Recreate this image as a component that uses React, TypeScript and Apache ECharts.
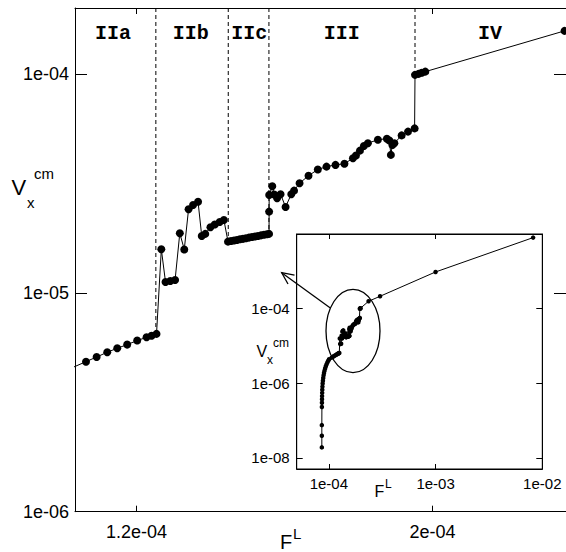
import React, { useEffect, useRef } from "react";
import * as echarts from "echarts";

// ---- main plot data (F^L, V_x^cm), split by regime ----
const segIIaF = [1.005e-4, 1.0633e-4, 1.0921e-4, 1.1207e-4, 1.1477e-4, 1.1746e-4, 1.2016e-4, 1.227e-4, 1.2405e-4, 1.2539e-4];
const segIIaV = [4.39e-6, 4.846e-6, 5.09e-6, 5.35e-6, 5.58e-6, 5.8e-6, 6.05e-6, 6.26e-6, 6.37e-6, 6.49e-6];

const segIIbF = [1.2669e-4, 1.2782e-4, 1.2912e-4, 1.3041e-4, 1.3168e-4, 1.3289e-4, 1.3405e-4, 1.3527e-4, 1.3661e-4, 1.3761e-4, 1.3856e-4, 1.3996e-4, 1.4112e-4, 1.4247e-4, 1.436e-4];
const segIIbV = [1.58e-5, 1.121e-5, 1.133e-5, 1.145e-5, 1.871e-5, 1.578e-5, 2.408e-5, 2.519e-5, 2.608e-5, 1.819e-5, 1.858e-5, 1.993e-5, 2.052e-5, 2.107e-5, 2.152e-5];

const segIIcF = [1.4471e-4, 1.4552e-4, 1.4633e-4, 1.4713e-4, 1.4794e-4, 1.4875e-4, 1.4956e-4, 1.5037e-4, 1.5118e-4, 1.5199e-4, 1.528e-4, 1.5361e-4, 1.5442e-4, 1.5523e-4, 1.558e-4];
const segIIcV = [1.713e-5, 1.724e-5, 1.733e-5, 1.744e-5, 1.755e-5, 1.764e-5, 1.776e-5, 1.787e-5, 1.798e-5, 1.807e-5, 1.819e-5, 1.83e-5, 1.84e-5, 1.851e-5, 1.858e-5];

const segIIIF = [1.5582e-4, 1.5584e-4, 1.5668e-4, 1.5719e-4, 1.5798e-4, 1.5892e-4, 1.6027e-4, 1.6181e-4, 1.6256e-4, 1.6405e-4, 1.6647e-4, 1.6898e-4, 1.7133e-4, 1.7376e-4, 1.7618e-4, 1.7848e-4, 1.7928e-4, 1.8036e-4, 1.8144e-4, 1.8252e-4, 1.8522e-4, 1.8765e-4, 1.8832e-4, 1.8873e-4, 1.8913e-4, 1.8967e-4, 1.9164e-4, 1.9336e-4, 1.9514e-4];
const segIIIV = [2.349e-5, 2.8e-5, 3.068e-5, 2.814e-5, 2.704e-5, 2.82e-5, 2.467e-5, 2.82e-5, 2.929e-5, 3.167e-5, 3.426e-5, 3.658e-5, 3.771e-5, 3.839e-5, 3.888e-5, 4.119e-5, 4.242e-5, 4.461e-5, 4.688e-5, 4.823e-5, 5.004e-5, 5.057e-5, 4.967e-5, 4.265e-5, 4.737e-5, 4.823e-5, 5.236e-5, 5.45e-5, 5.636e-5];

const segIVF = [1.9525e-4, 1.9622e-4, 1.9709e-4, 1.9803e-4, 2.3566e-4];
const segIVV = [9.9e-5, 1.0e-4, 1.013e-4, 1.024e-4, 1.572e-4];

// ---- inset extra data ----
const lowF = [8.6e-5, 8.6e-5, 8.6e-5, 8.61e-5, 8.62e-5, 8.63e-5, 8.64e-5, 8.66e-5, 8.68e-5, 8.71e-5, 8.75e-5, 8.8e-5, 8.86e-5, 8.93e-5, 9.01e-5, 9.11e-5, 9.23e-5, 9.37e-5, 9.53e-5, 9.71e-5, 9.88e-5];
const lowV = [1.9e-8, 3.9e-8, 7.5e-8, 2.3e-7, 3.0e-7, 3.7e-7, 4.5e-7, 5.5e-7, 6.7e-7, 8.1e-7, 9.8e-7, 1.17e-6, 1.38e-6, 1.62e-6, 1.88e-6, 2.17e-6, 2.49e-6, 2.84e-6, 3.22e-6, 3.63e-6, 4.02e-6];
const highF = [3.02e-4, 1.0e-3, 8.2e-3];
const highV = [2.14e-4, 9.6e-4, 8.0e-3];

// ---- regime boundaries ----
const boundaryF = [1.2521e-4, 1.4478e-4, 1.5577e-4, 1.9525e-4];
const boundaryBottomV = [6.49e-6, 1.713e-5, 1.858e-5, 9.9e-5];
const regimeNames = ["IIa", "IIb", "IIc", "III", "IV"];

// ---- axes ----
const mainXTicks = [1.2e-4, 2e-4];
const mainYTicks = [1e-6, 1e-5, 1e-4];
const insetXTicks = [1e-4, 1e-3, 1e-2];
const insetYTicks = [1e-8, 1e-6, 1e-4];
const MAIN_X_MIN = 1.03358e-4;
const MAIN_X_MAX = 2.3606e-4;
const MAIN_Y_MIN = 1e-6;
const MAIN_Y_MAX = 2e-4;
const INSET_X_MIN = 5e-5;
const INSET_X_MAX = 1e-2;
const INSET_Y_MIN = 5e-9;
const INSET_Y_MAX = 1e-2;

function fmtExp(v: number): string {
  const s = Number(v).toExponential();
  const [m, e] = s.split("e");
  const n = parseInt(e, 10);
  const mm = String(parseFloat(parseFloat(m).toFixed(6)));
  return mm + "e" + (n < 0 ? "-" : "+") + String(Math.abs(n)).padStart(2, "0");
}

const pairs = (f: number[], v: number[]) => f.map((x, i) => [x, v[i]]);

const SANS = "Liberation Sans, Arial, sans-serif";

export default function App() {
  const ref = useRef<HTMLDivElement>(null);
  useEffect(() => {
    document.body.style.margin = "0";
    const chart = echarts.init(ref.current!, null, { renderer: "svg" });

    const mainData = [
      ...pairs(segIIaF, segIIaV),
      ...pairs(segIIbF, segIIbV),
      ...pairs(segIIcF, segIIcV),
      ...pairs(segIIIF, segIIIV),
      ...pairs(segIVF, segIVV),
    ];
    const insetData = [...pairs(lowF, lowV), ...mainData, ...pairs(highF, highV)];

    const black = "#000";
    const tickStyle = { color: black, width: 1 };

    const axisCommon = (grid: number, pos: string, min: number, max: number, type: string, ticks: number[], tickLen: number, showLabel: boolean, fontSize: number, margin: number, z: number) => ({
      type,
      gridIndex: grid,
      position: pos,
      min,
      max,
      logBase: 10,
      z,
      axisLine: { show: true, onZero: false, lineStyle: { color: black, width: 1 } },
      axisTick: { show: true, inside: true, length: tickLen, customValues: ticks, lineStyle: tickStyle },
      minorTick: { show: false },
      axisLabel: showLabel
        ? { show: true, customValues: ticks, formatter: fmtExp, fontSize, fontFamily: SANS, color: black, margin }
        : { show: false },
      splitLine: { show: false },
    });

    const boundarySeries = boundaryF.map((f, i) => ({
      type: "line",
      xAxisIndex: 0,
      yAxisIndex: 0,
      data: [
        [f, MAIN_Y_MAX],
        [f, boundaryBottomV[i]],
      ],
      symbol: "none",
      lineStyle: { color: black, width: 1, type: [4, 3] },
      z: 2,
      silent: true,
    }));

    const regimeX = [113, 190.8, 249.2, 341.7, 490];

    const txt = (text: string, x: number, y: number, size: number, opts: any = {}) => ({
      type: "text",
      z: 30,
      style: {
        text,
        x,
        y,
        fill: black,
        fontSize: size,
        fontFamily: opts.family || SANS,
        fontWeight: opts.weight || "normal",
        align: opts.align || "left",
        verticalAlign: "middle",
        textAlign: opts.align || "left",
        textVerticalAlign: "middle",
      },
    });

    const option: any = {
      animation: false,
      backgroundColor: "#fff",
      grid: [
        { left: 75, top: 8, width: 492, height: 503.7, show: false },
        { left: 296.7, top: 234, width: 245.6, height: 235, show: true, backgroundColor: "#fff", borderColor: black, borderWidth: 1, z: 5 },
      ],
      xAxis: [
        axisCommon(0, "bottom", MAIN_X_MIN, MAIN_X_MAX, "value", mainXTicks, 6, true, 18, 11, 0),
        axisCommon(0, "top", MAIN_X_MIN, MAIN_X_MAX, "value", mainXTicks, 6, false, 18, 11, 0),
        axisCommon(1, "bottom", INSET_X_MIN, INSET_X_MAX, "log", insetXTicks, 5, true, 15, 7, 7),
        axisCommon(1, "top", INSET_X_MIN, INSET_X_MAX, "log", insetXTicks, 5, false, 15, 7, 7),
      ],
      yAxis: [
        axisCommon(0, "left", MAIN_Y_MIN, MAIN_Y_MAX, "log", mainYTicks, 12, true, 18, 6, 0),
        axisCommon(0, "right", MAIN_Y_MIN, MAIN_Y_MAX, "log", mainYTicks, 12, false, 18, 6, 0),
        axisCommon(1, "left", INSET_Y_MIN, INSET_Y_MAX, "log", insetYTicks, 6, true, 15, 7, 7),
        axisCommon(1, "right", INSET_Y_MIN, INSET_Y_MAX, "log", insetYTicks, 6, false, 15, 7, 7),
      ],
      series: [
        ...boundarySeries,
        {
          type: "line",
          xAxisIndex: 0,
          yAxisIndex: 0,
          data: mainData,
          symbol: "circle",
          symbolSize: 8,
          showSymbol: true,
          showAllSymbol: true,
          itemStyle: { color: black },
          lineStyle: { color: black, width: 1 },
          clip: true,
          z: 3,
        },
        {
          type: "line",
          xAxisIndex: 2,
          yAxisIndex: 2,
          data: insetData,
          symbol: "circle",
          symbolSize: 4.5,
          showSymbol: true,
          showAllSymbol: true,
          itemStyle: { color: black },
          lineStyle: { color: black, width: 1 },
          clip: true,
          z: 6,
        },
      ],
      graphic: [
        ...regimeNames.map((n, i) => txt(n, regimeX[i], 33, 20, { family: "Liberation Mono, Courier New, monospace", weight: "bold", align: "center" })),
        // main axis names
        txt("V", 11.5, 187.5, 22),
        txt("x", 27, 202, 15),
        txt("cm", 34, 173.5, 15),
        txt("F", 280, 541.5, 20),
        txt("L", 293, 533.5, 15),
        // inset axis names
        txt("V", 256.5, 351.7, 16),
        txt("x", 267, 360, 12),
        txt("cm", 273, 343, 12),
        txt("F", 374.5, 491.7, 16),
        txt("L", 385, 484, 12),
        {
          type: "ellipse",
          z: 30,
          shape: { cx: 353, cy: 331, rx: 27, ry: 41.7 },
          style: { fill: "none", stroke: black, lineWidth: 1.3 },
        },
        {
          type: "line",
          z: 30,
          shape: { x1: 330, y1: 307.7, x2: 281.7, y2: 272.7 },
          style: { stroke: black, lineWidth: 1.3 },
        },
        {
          type: "polyline",
          z: 30,
          shape: { points: [[294.5, 275.2], [281.7, 272.7], [288, 284]] },
          style: { stroke: black, fill: "none", lineWidth: 1.3 },
        },
      ],
    };

    chart.setOption(option);
    return () => chart.dispose();
  }, []);
  return <div ref={ref} style={{ position: "absolute", left: 0, top: 0, width: 566, height: 552, background: "#fff" }} />;
}
